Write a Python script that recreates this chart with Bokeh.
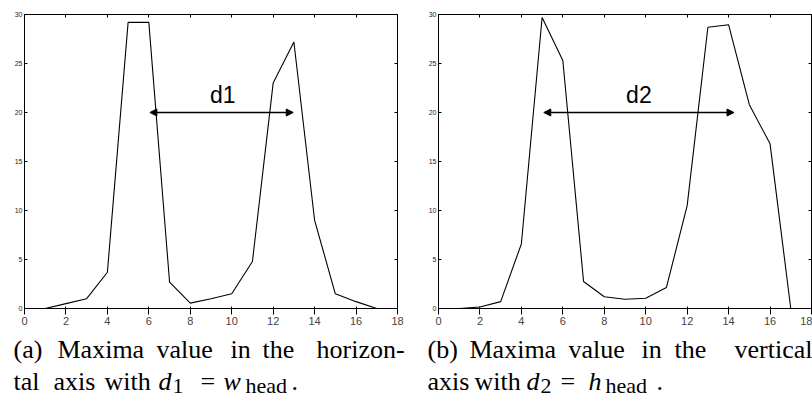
from bokeh.plotting import figure
from bokeh.models import Range1d, LinearAxis, FixedTicker, Arrow, NormalHead, Label, ColumnDataSource
from bokeh.layouts import row, column
from bokeh.core.properties import value
from bokeh.embed import file_html
from bokeh.resources import INLINE

# ---- data ----
x_index = list(range(1, 18))
horizontal_maxima = [0, 0.5, 1.0, 3.7, 29.2, 29.2, 2.7, 0.55, 1.0, 1.5, 4.8, 23.0, 27.2, 9.0, 1.5, 0.7, 0]
vertical_maxima = [0, 0.15, 0.7, 6.6, 29.7, 25.3, 2.75, 1.2, 0.95, 1.05, 2.15, 10.5, 28.7, 28.95, 20.8, 16.8, 0]
x_ticks = [0, 2, 4, 6, 8, 10, 12, 14, 16, 18]
y_ticks = [0, 5, 10, 15, 20, 25, 30]
d1_span = [6.05, 12.97]
d2_span = [5.08, 14.26]
arrow_level = 20
d1_text_x, d2_text_x, d_text_y = 9.57, 9.67, 21.75

caption_a_line1 = ["(a)", "Maxima", "value", "in", "the", "horizon-"]
caption_b_line1 = ["(b)", "Maxima", "value", "in", "the", "vertical"]
caption_a_line2 = ["tal", "axis", "with", "d", "=", "w", "."]
caption_a_line2_style = ["normal", "normal", "normal", "italic", "normal", "italic", "normal"]
caption_b_line2 = ["axis", "with", "d", "=", "h", "."]
caption_b_line2_style = ["normal", "normal", "italic", "normal", "italic", "normal"]
sub_a = ["1", "head"]
sub_b = ["2", "head"]

# ---- layout constants (page pixels) ----
start_a, start_b = 13, 427
off_a1 = [0, 44, 143, 217, 249, 303]
off_b1 = [0, 42, 141, 214, 247, 307]
off_a2 = [0, 40, 91, 145, 187, 210, 278]
off_b2 = [0, 47, 99, 133, 161, 229]
sub_off_a = [159, 232]
sub_off_b = [113, 178]

SERIF = "Liberation Serif"
CAP_SIZE = "26px"
SUB_SIZE = "22px"
PLOT_H = 328
CAP_H = 401 - PLOT_H


def blank_overrides(ticks):
    return {t: "" for t in ticks}


def make_panel(vals, span, label_text, label_x, border_left, border_right):
    p = figure(width=406, height=PLOT_H, x_range=Range1d(0, 18), y_range=Range1d(0, 30),
               output_backend="svg", toolbar_location=None,
               min_border_left=border_left, min_border_right=border_right,
               min_border_top=14, min_border_bottom=PLOT_H - 14 - 294)
    p.grid.visible = False
    p.outline_line_color = "black"
    p.outline_line_width = 1
    p.background_fill_color = "white"
    p.border_fill_color = "white"

    p.xaxis[0].ticker = FixedTicker(ticks=x_ticks)
    p.xaxis[0].major_label_standoff = 2
    p.yaxis[0].ticker = FixedTicker(ticks=y_ticks)
    p.yaxis[0].major_label_standoff = 2

    top = LinearAxis(ticker=FixedTicker(ticks=x_ticks), major_label_overrides=blank_overrides(x_ticks),
                     major_label_standoff=0)
    right = LinearAxis(ticker=FixedTicker(ticks=y_ticks), major_label_overrides=blank_overrides(y_ticks),
                       major_label_standoff=0)
    p.add_layout(top, "above")
    p.add_layout(right, "right")

    for ax in [p.xaxis[0], p.yaxis[0], top, right]:
        ax.major_tick_in = 3
        ax.major_tick_out = 0
        ax.minor_tick_line_color = None
        ax.axis_line_color = "black"
        ax.major_tick_line_color = "black"
        ax.major_label_text_font = "Liberation Sans"
        ax.major_label_text_color = "#222222"
        ax.major_label_text_font_size = "7px"

    src = ColumnDataSource(dict(x=x_index, y=vals))
    p.line("x", "y", source=src, line_color="black", line_width=1.1)

    p.add_layout(Arrow(x_start=span[0], x_end=span[1], y_start=arrow_level, y_end=arrow_level,
                       line_color="black", line_width=1.3,
                       start=NormalHead(size=7, fill_color="black", line_color="black"),
                       end=NormalHead(size=7, fill_color="black", line_color="black")))
    p.add_layout(Label(x=label_x, y=d_text_y, text=label_text, text_font="Liberation Sans",
                       text_font_size="23px", text_align="center", text_baseline="alphabetic",
                       text_color="black"))
    return p


p1 = make_panel(horizontal_maxima, d1_span, "d1", d1_text_x, 24, 9)
p2 = make_panel(vertical_maxima, d2_span, "d2", d2_text_x, 32, 1)

# caption strip: coordinates are page pixels, y measured down from the strip's top
cap = figure(width=812, height=CAP_H, x_range=Range1d(0, 812), y_range=Range1d(CAP_H, 0),
             x_axis_type=None, y_axis_type=None, output_backend="svg", toolbar_location=None,
             min_border_left=0, min_border_right=0, min_border_top=0, min_border_bottom=0)
cap.grid.visible = False
cap.outline_line_color = None
cap.border_fill_color = "white"
cap.background_fill_color = "white"

y1, y2, ysub = 21, 53, 57


def put_words(words, offs, start, y, styles=None, size=CAP_SIZE):
    styles = styles or ["normal"] * len(words)
    for st in sorted(set(styles)):
        idx = [i for i, s in enumerate(styles) if s == st]
        src = ColumnDataSource(dict(x=[start + offs[i] for i in idx], y=[y] * len(idx),
                                    t=[words[i] for i in idx]))
        cap.text("x", "y", text="t", source=src, text_font=value(SERIF), text_font_size=value(size),
                 text_font_style=st, text_baseline="alphabetic", text_align="left", text_color="black")


put_words(caption_a_line1, off_a1, start_a, y1)
put_words(caption_b_line1, off_b1, start_b, y1)
put_words(caption_a_line2, off_a2, start_a, y2, caption_a_line2_style)
put_words(caption_b_line2, off_b2, start_b, y2, caption_b_line2_style)
put_words(sub_a, sub_off_a, start_a, ysub, size=SUB_SIZE)
put_words(sub_b, sub_off_b, start_b, ysub, size=SUB_SIZE)

layout = column(row(p1, p2), cap)
open("out.html", "w").write(file_html(layout, INLINE))
